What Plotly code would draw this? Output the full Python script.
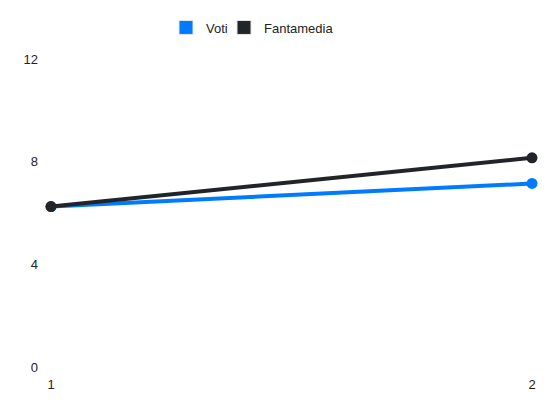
import plotly.graph_objects as go

giornate = [1, 2]
voti = [6.25, 7.15]
fantamedia = [6.25, 8.15]
y_ticks = [0, 4, 8, 12]

blu = '#007bff'
scuro = '#212529'

# la pagina ha 8px di margine del body: figura più piccola per compensare
W, H = 542, 404

fig = go.Figure()

# linee vere (fuori legenda)
fig.add_trace(go.Scatter(
    x=giornate, y=voti, mode='lines+markers', name='Voti',
    line=dict(color=blu, width=4), marker=dict(size=11, color=blu),
    showlegend=False, cliponaxis=False
))
fig.add_trace(go.Scatter(
    x=giornate, y=fantamedia, mode='lines+markers', name='Fantamedia',
    line=dict(color=scuro, width=4), marker=dict(size=11, color=scuro),
    showlegend=False, cliponaxis=False
))

# voci di legenda con quadratino, una legenda per voce per posizionarle
for nome, col, leg in [('Voti', blu, 'legend'), ('Fantamedia', scuro, 'legend2')]:
    fig.add_trace(go.Scatter(
        x=[None], y=[None], mode='markers', name=nome, legend=leg,
        marker=dict(symbol='square', size=14, color=col,
                    line=dict(color='#e6e6e6', width=1))
    ))

leg_style = dict(
    xref='container', xanchor='left', yref='container', yanchor='middle',
    y=1 - 19.5 / H, font=dict(size=13, color='#222'), itemclick=False,
    bgcolor='rgba(0,0,0,0)'
)

fig.update_layout(
    width=W, height=H,
    margin=dict(l=43, r=18, t=51, b=45, autoexpand=False),
    plot_bgcolor='white', paper_bgcolor='white',
    font=dict(family='Liberation Sans, Arial, sans-serif', size=13, color='#222'),
    showlegend=True,
    legend=dict(x=158 / W, **leg_style),
    legend2=dict(x=216 / W, **leg_style),
    xaxis=dict(
        range=[1, 2], tickvals=giornate, showgrid=False, zeroline=False,
        showline=False, ticks='', ticklabelstandoff=8, automargin=False
    ),
    yaxis=dict(
        range=[0, 12], tickvals=y_ticks, showgrid=False, zeroline=False,
        showline=False, ticks='', ticklabelstandoff=12, automargin=False
    ),
)

fig.write_html("out.html")
